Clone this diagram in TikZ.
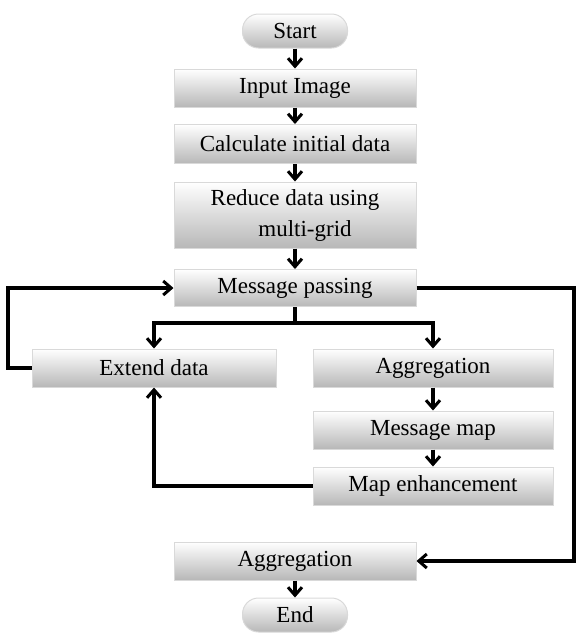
\documentclass[tikz,border=0pt]{standalone}
\usepackage{fontspec}
\setmainfont{Liberation Serif}
\usetikzlibrary{arrows.meta}
\begin{document}
\begin{tikzpicture}[x=1pt,y=-1pt,
  box/.style={draw=black!15, line width=1pt, top color=white, bottom color=black!28,
    minimum height=38pt, inner sep=0pt, align=center,
    font=\fontsize{23}{31}\selectfont},
  wide/.style={box, minimum width=242pt},
  pill/.style={box, rounded corners=16pt, minimum width=105pt, minimum height=34pt},
  ln/.style={line width=3.2pt},
  arr/.style={ln, -{Straight Barb[length=8pt,width=14pt,line width=3pt]}}]
\path[use as bounding box] (0,0) rectangle (576,638);

% main column
\node[pill] (start) at (295,31) {Start};
\node[wide] (inp) at (295,88) {Input Image};
\node[wide, minimum height=39pt] (calc) at (295,144) {Calculate initial data};
\node[wide, minimum height=66pt] (red) at (295,215) {Reduce data using\\\hspace*{20pt}multi-grid};
\node[wide, minimum height=37pt] (msg) at (295,288) {Message passing};

% branches
\node[box, minimum width=244pt] (ext) at (154,368) {Extend data};
\node[box, minimum width=240pt] (agg) at (433,368) {Aggregation};
\node[box, minimum width=240pt] (map) at (433,430) {Message map};
\node[box, minimum width=240pt] (enh) at (433,486) {Map enhancement};

% final steps
\node[wide] (fin) at (295,561) {Aggregation};
\node[pill] (end) at (295,615) {End};

% straight flow
\draw[arr] (start) -- (inp);
\draw[arr] (inp) -- (calc);
\draw[arr] (calc) -- (red);
\draw[arr] (red) -- (msg);
\draw[arr] (agg) -- (map);
\draw[arr] (map) -- (enh);
\draw[arr] (fin) -- (end);

% split below message passing
\coordinate (split) at (295,323);
\draw[ln] (msg.south) -- (split);
\draw[arr] (split) -| (ext.north);
\draw[arr] (split) -| (agg.north);

% feedback loops
\coordinate (lc) at (8,368);
\coordinate (rc) at (574,288);
\draw[arr] (ext.west) -- (lc) |- (msg.west);
\draw[arr] (enh.west) -| (ext.south);
\draw[arr] (msg.east) -- (rc) |- (fin.east);
\end{tikzpicture}
\end{document}
